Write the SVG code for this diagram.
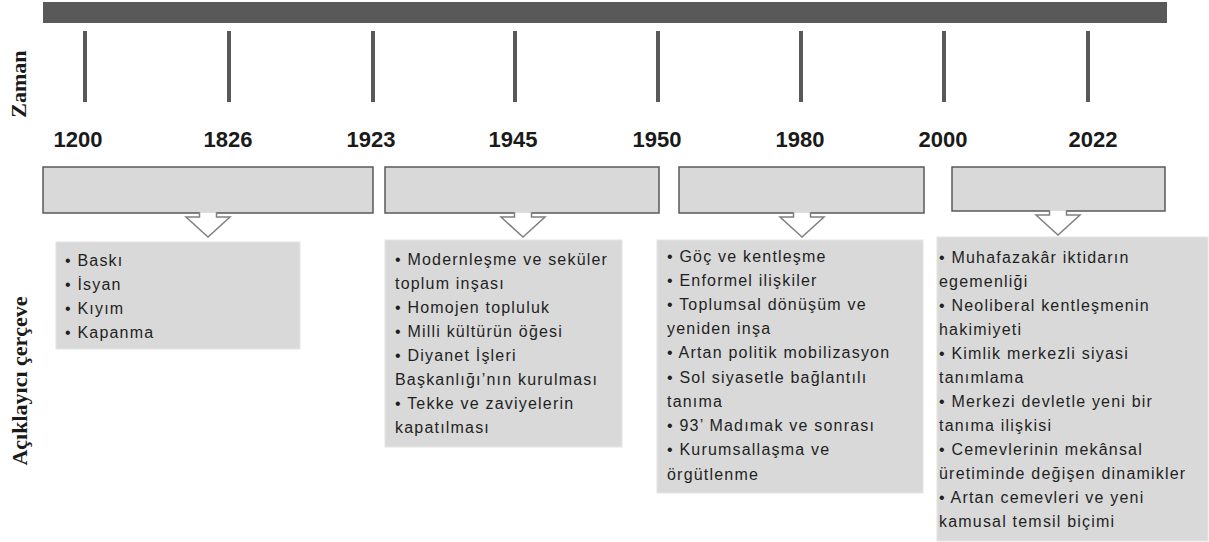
<svg xmlns="http://www.w3.org/2000/svg" width="1209" height="542" viewBox="0 0 1209 542">
<style>
.bar{fill:#595959}
.tick{stroke:#595959;stroke-width:4}
.year{font-family:"Liberation Sans",Arial,sans-serif;font-weight:bold;font-size:22px;fill:#1a1a1a;text-anchor:middle}
.side{font-family:"Liberation Serif","Times New Roman",serif;font-weight:bold;font-size:22px;fill:#1a1a1a;text-anchor:middle}
.hbox{fill:#d9d9d9;stroke:#595959;stroke-width:1.5}
.arrow{fill:#ffffff;stroke:#808080;stroke-width:1.5;stroke-linejoin:miter}
.cbox{fill:#d9d9d9;stroke:#e4e4e4;stroke-width:1}
.txt{font-family:"Liberation Sans",Arial,sans-serif;font-size:16px;letter-spacing:1.2px;fill:#1f1f1f}
</style>
<g id="timeline">
<rect class="bar" x="43" y="2" width="1124" height="21"/>
<line class="tick" x1="85" y1="31" x2="85" y2="102"/>
<line class="tick" x1="229" y1="31" x2="229" y2="102"/>
<line class="tick" x1="373" y1="31" x2="373" y2="102"/>
<line class="tick" x1="515" y1="31" x2="515" y2="102"/>
<line class="tick" x1="658" y1="31" x2="658" y2="102"/>
<line class="tick" x1="801" y1="31" x2="801" y2="102"/>
<line class="tick" x1="944" y1="31" x2="944" y2="102"/>
<line class="tick" x1="1088" y1="31" x2="1088" y2="102"/>
</g>
<g id="years">
<text class="year" x="78" y="147">1200</text>
<text class="year" x="228" y="147">1826</text>
<text class="year" x="371" y="147">1923</text>
<text class="year" x="513" y="147">1945</text>
<text class="year" x="657" y="147">1950</text>
<text class="year" x="800" y="147">1980</text>
<text class="year" x="943" y="147">2000</text>
<text class="year" x="1093" y="147">2022</text>
</g>
<g id="labels">
<text class="side" transform="translate(26,84) rotate(-90)">Zaman</text>
<text class="side" transform="translate(27,381) rotate(-90)">Açıklayıcı çerçeve</text>
</g>
<g id="period1">
<rect class="hbox" x="43" y="167" width="330" height="46"/>
</g>
<g id="period2">
<rect class="hbox" x="385" y="167" width="274" height="46"/>
</g>
<g id="period3">
<rect class="hbox" x="679" y="167" width="245" height="46"/>
</g>
<g id="period4">
<rect class="hbox" x="952" y="167" width="213" height="44"/>
</g>
<g id="connectors">
<path class="arrow" d="M199.5,212.2 V217 H186 L208,237 L230,217 H216.5 V212.2"/>
<path class="arrow" d="M514.5,212.2 V217 H501 L523,237 L545,217 H531.5 V212.2"/>
<path class="arrow" d="M793.5,212.2 V217 H780 L802,237 L824,217 H810.5 V212.2"/>
<path class="arrow" d="M1049.5,210.2 V215 H1036 L1058,235 L1080,215 H1066.5 V210.2"/>
</g>
<g id="frame1">
<rect class="cbox" x="56" y="242" width="244" height="107"/>
<text class="txt">
<tspan x="65" y="266">• Baskı</tspan>
<tspan x="65" y="290">• İsyan</tspan>
<tspan x="65" y="314">• Kıyım</tspan>
<tspan x="65" y="338">• Kapanma</tspan>
</text>
</g>
<g id="frame2">
<rect class="cbox" x="385" y="240" width="237" height="207"/>
<text class="txt">
<tspan x="395" y="265">• Modernleşme ve seküler</tspan>
<tspan x="395" y="289">toplum inşası</tspan>
<tspan x="395" y="313">• Homojen topluluk</tspan>
<tspan x="395" y="337">• Milli kültürün öğesi</tspan>
<tspan x="395" y="361">• Diyanet İşleri</tspan>
<tspan x="395" y="385">Başkanlığı’nın kurulması</tspan>
<tspan x="395" y="409">• Tekke ve zaviyelerin</tspan>
<tspan x="395" y="433">kapatılması</tspan>
</text>
</g>
<g id="frame3">
<rect class="cbox" x="657" y="240" width="266" height="253"/>
<text class="txt">
<tspan x="667" y="262">• Göç ve kentleşme</tspan>
<tspan x="667" y="286">• Enformel ilişkiler</tspan>
<tspan x="667" y="310">• Toplumsal dönüşüm ve</tspan>
<tspan x="667" y="334">yeniden inşa</tspan>
<tspan x="667" y="358">• Artan politik mobilizasyon</tspan>
<tspan x="667" y="383">• Sol siyasetle bağlantılı</tspan>
<tspan x="667" y="407">tanıma</tspan>
<tspan x="667" y="431">• 93’ Madımak ve sonrası</tspan>
<tspan x="667" y="455">• Kurumsallaşma ve</tspan>
<tspan x="667" y="480">örgütlenme</tspan>
</text>
</g>
<g id="frame4">
<rect class="cbox" x="937" y="237" width="271" height="304"/>
<text class="txt">
<tspan x="939" y="263">• Muhafazakâr iktidarın</tspan>
<tspan x="939" y="287">egemenliği</tspan>
<tspan x="939" y="311">• Neoliberal kentleşmenin</tspan>
<tspan x="939" y="335">hakimiyeti</tspan>
<tspan x="939" y="359">• Kimlik merkezli siyasi</tspan>
<tspan x="939" y="383">tanımlama</tspan>
<tspan x="939" y="407">• Merkezi devletle yeni bir</tspan>
<tspan x="939" y="431">tanıma ilişkisi</tspan>
<tspan x="939" y="455">• Cemevlerinin mekânsal</tspan>
<tspan x="939" y="479">üretiminde değişen dinamikler</tspan>
<tspan x="939" y="503">• Artan cemevleri ve yeni</tspan>
<tspan x="939" y="527">kamusal temsil biçimi</tspan>
</text>
</g>
</svg>
